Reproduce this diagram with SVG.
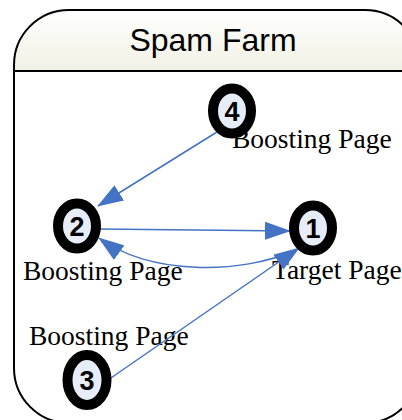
<svg xmlns="http://www.w3.org/2000/svg" width="402" height="420" viewBox="0 0 402 420">
<defs>
<linearGradient id="hdr" x1="0" y1="0" x2="0" y2="1">
<stop offset="0" stop-color="#ffffff"/>
<stop offset="1" stop-color="#f1f1e4"/>
</linearGradient>
<clipPath id="cc"><rect x="14" y="10" width="406" height="413" rx="55" ry="55"/></clipPath>
<marker id="ah" viewBox="0 0 26 18" refX="25" refY="9" markerWidth="26" markerHeight="18" markerUnits="userSpaceOnUse" orient="auto">
<path d="M0,0 L26,9 L0,18 z" fill="#4472c4"/>
</marker>
<style>
.ring{fill:#e6ecf8;stroke:#000;stroke-width:10}
.num{font-family:"Liberation Sans",Arial,sans-serif;font-weight:bold;font-size:27px;text-anchor:middle;fill:#000}
.lbl{font-family:"Liberation Serif","Times New Roman",serif;font-size:27.5px;fill:#000}
.edge{fill:none;stroke:#4472c4;stroke-width:1.5;marker-end:url(#ah)}
</style>
</defs>
<g id="container">
<rect x="14" y="10" width="406" height="413" rx="55" ry="55" fill="#ffffff"/>
<rect x="14" y="10" width="406" height="61" fill="url(#hdr)" clip-path="url(#cc)"/>
<line x1="14" y1="71" x2="420" y2="71" stroke="#000" stroke-width="2"/>
<rect x="14" y="10" width="406" height="413" rx="55" ry="55" fill="none" stroke="#000" stroke-width="2"/>
<text x="213" y="51" font-family="'Liberation Sans',Arial,sans-serif" font-size="32" text-anchor="middle" fill="#000">Spam Farm</text>
</g>
<g id="labels">
<text class="lbl" x="232" y="148">Boosting Page</text>
<text class="lbl" x="23" y="280">Boosting Page</text>
<text class="lbl" x="272" y="279">Target Page</text>
<text class="lbl" x="29" y="345">Boosting Page</text>
</g>
<g id="connectors">
<path class="edge" d="M217,132 L98,206"/>
<path class="edge" d="M99,229 L290,231"/>
<path class="edge" d="M296,250 C240,275 150,275 99,238"/>
<path class="edge" d="M108,380 L299,248"/>
</g>
<g id="node4"><ellipse class="ring" cx="232" cy="111" rx="19" ry="22.5"/><text class="num" x="232" y="121">4</text></g>
<g id="node2"><ellipse class="ring" cx="77" cy="226" rx="19" ry="22.5"/><text class="num" x="77" y="236">2</text></g>
<g id="node1"><ellipse class="ring" cx="313" cy="228" rx="19" ry="22.5"/><text class="num" x="313" y="238">1</text></g>
<g id="node3"><ellipse class="ring" cx="87" cy="380" rx="19.5" ry="25"/><text class="num" x="87" y="390">3</text></g>
</svg>
